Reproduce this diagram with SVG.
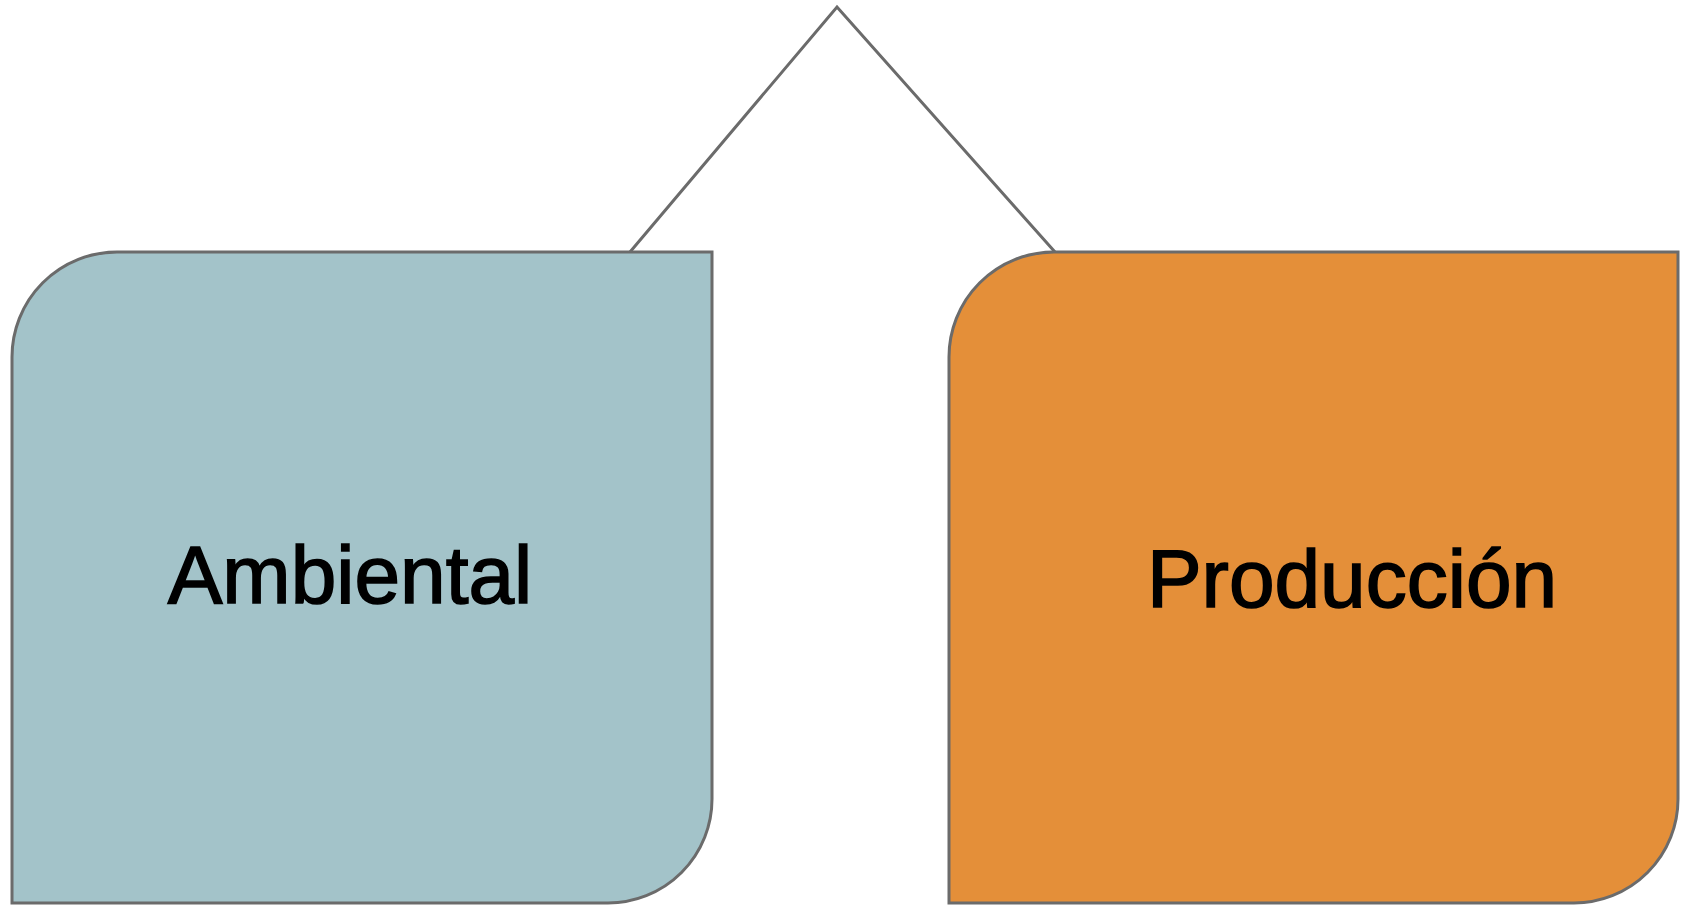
<svg xmlns="http://www.w3.org/2000/svg" width="1686" height="905" viewBox="0 0 1686 905">
<style>
.box{stroke:#6b6b6b;stroke-width:3}
.lbl{font-family:"Liberation Sans",Arial,sans-serif;font-size:82px;fill:#000;stroke:#000;stroke-width:1.6;text-anchor:middle}
.conn{fill:none;stroke:#6b6b6b;stroke-width:3}
</style>
<rect width="1686" height="905" fill="#fff"/>
<g id="connectors">
<polyline class="conn" points="630,252 837,7 1055,252"/>
</g>
<g id="ambiental">
<path class="box" fill="#A3C3C9" d="M117,252 H712 V799 A104,104 0 0 1 608,903 H12 V357 A105,105 0 0 1 117,252 Z"/>
<text class="lbl" x="350" y="603">Ambiental</text>
</g>
<g id="produccion">
<path class="box" fill="#E48F39" d="M1054,252 H1678 V799 A104,104 0 0 1 1574,903 H949 V357 A105,105 0 0 1 1054,252 Z"/>
<text class="lbl" x="1352" y="607">Producción</text>
</g>
</svg>
